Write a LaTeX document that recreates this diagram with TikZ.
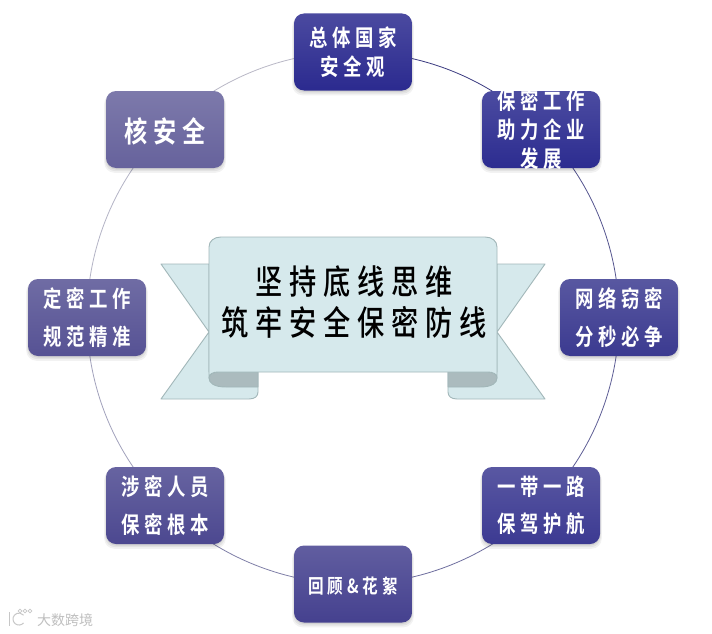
\documentclass[tikz,border=0pt]{standalone}
\usepackage{fontspec}
\newfontfamily\cjkb[FakeStretch=0.8,LetterSpace=20]{Noto Sans CJK SC Bold}
\newfontfamily\cjkt[FakeStretch=0.8,LetterSpace=20]{Noto Sans CJK SC Medium}
\newfontfamily\cjkw{Noto Sans CJK SC}
\usetikzlibrary{shadows,backgrounds}
\pgfdeclarelayer{paper}
\pgfsetlayers{paper,background,main}
\definecolor{ribbon}{HTML}{D6E9EC}
\definecolor{ribline}{HTML}{A2B7B9}
\definecolor{ribdark}{HTML}{ABBBBE}
\definecolor{ca}{HTML}{2B2A8F}
\definecolor{cb}{HTML}{2C2C90}
\definecolor{cc}{HTML}{3B3A90}
\definecolor{cd}{HTML}{3C3A92}
\definecolor{ce}{HTML}{45418F}
\definecolor{cf}{HTML}{4C4890}
\definecolor{cg}{HTML}{565294}
\definecolor{ch}{HTML}{66629C}
\definecolor{ra}{HTML}{B9B8C6}
\definecolor{rb}{HTML}{3A3A80}
\definecolor{rc}{HTML}{55558F}
\definecolor{rd}{HTML}{5E5E96}
\definecolor{re}{HTML}{6F6F9F}
\definecolor{rf}{HTML}{8080A8}
\definecolor{rg}{HTML}{A2A2BC}
\definecolor{rh}{HTML}{B4B4C6}
\tikzset{x=1pt,y=-1pt,
 softshadow/.style={
  general shadow={fill=black,opacity=.05,shadow yshift=-3.5pt,shadow scale=1.03},
  general shadow={fill=black,opacity=.06,shadow yshift=-2.5pt,shadow scale=1.015},
  general shadow={fill=black,opacity=.07,shadow yshift=-1.5pt}},
 tile/.style={rectangle,rounded corners=10pt,minimum width=118pt,minimum height=77pt,
  softshadow,text=white,align=center,font=\cjkb\fontsize{23}{37.5}\selectfont,inner xsep=0pt,inner ysep=-10pt},
 deep/.style={tile,top color=#1!85!white,bottom color=#1},
 nudge/.style={execute at begin node={\rule{0pt}{#1}}},
 ring/.style={line width=.8pt,bend left=22.5,looseness=.885},
 tight/.style={font=\cjkb\fontsize{23}{29}\selectfont}}
\begin{document}
\begin{tikzpicture}
\useasboundingbox (0,0) rectangle (712,634);
\begin{pgfonlayer}{paper}
\fill[white] (0,0) rectangle (712,634);
\end{pgfonlayer}
% ---- tiles
\node[deep=ca,tight,nudge=22pt] (n1) at (353,52) {总体国家\\安全观};
\node[deep=cb,tight,nudge=24pt] (n2) at (541,129.5) {保密工作\\助力企业\\发展};
\node[deep=cc,nudge=24pt] (n3) at (619,317.5) {网络窃密\\分秒必争};
\node[deep=cd,nudge=24pt] (n4) at (541,505.5) {一带一路\\保驾护航};
\node[deep=ce,font=\cjkb\fontsize{19.5}{30}\selectfont,nudge=20pt] (n5) at (353,584) {回顾\&花絮};
\node[deep=cf,nudge=24pt] (n6) at (165,505.5) {涉密人员\\保密根本};
\node[deep=cg,nudge=25pt] (n7) at (87,317.5) {定密工作\\规范精准};
\node[deep=ch,font=\cjkb\fontsize{29}{30}\selectfont,nudge=29pt] (n8) at (165,129.5) {核安全};
% ---- ring
\begin{scope}[on background layer]
\draw[ring,draw=ra] (n8.center) to (n1.center);
\draw[ring,draw=rb] (n1.center) to (n2.center);
\draw[ring,draw=rc] (n2.center) to (n3.center);
\draw[ring,draw=rd] (n3.center) to (n4.center);
\draw[ring,draw=re] (n4.center) to (n5.center);
\draw[ring,draw=rf] (n5.center) to (n6.center);
\draw[ring,draw=rg] (n6.center) to (n7.center);
\draw[ring,draw=rh] (n7.center) to (n8.center);
\end{scope}
% ---- ribbon
\begin{scope}[draw=ribline,line width=.9pt,line join=round]
\filldraw[fill=ribbon] (209,264) -- (161,264) -- (209,332) -- (161,399) -- (249,399)
  .. controls (255,399) and (258,396) .. (258,392) -- (258,372) -- (209,372) -- cycle;
\filldraw[fill=ribbon] (497,264) -- (545,264) -- (497,332) -- (545,399) -- (457,399)
  .. controls (451,399) and (448,396) .. (448,392) -- (448,372) -- (497,372) -- cycle;
\filldraw[fill=ribdark] (209,378) .. controls (209,383) and (214,387) .. (226,387)
  -- (258,387) -- (258,372) -- (218,372) .. controls (213,372) and (209,374) .. (209,378) -- cycle;
\filldraw[fill=ribdark] (497,378) .. controls (497,383) and (492,387) .. (480,387)
  -- (448,387) -- (448,372) -- (488,372) .. controls (493,372) and (497,374) .. (497,378) -- cycle;
\filldraw[fill=ribbon] (221,237) -- (485,237) .. controls (492,237) and (497,241) .. (497,247)
  -- (497,378) .. controls (497,374) and (493,372) .. (488,372) -- (218,372)
  .. controls (213,372) and (209,374) .. (209,378) -- (209,247)
  .. controls (209,241) and (214,237) .. (221,237) -- cycle;
\end{scope}
\node[font=\cjkt\fontsize{34}{41}\selectfont,align=center,inner sep=0pt] (title) at (354,302) {坚持底线思维\\筑牢安全保密防线};
% ---- watermark
\node[anchor=west,inner sep=0pt,text=black!25,font=\cjkw\fontsize{14}{14}\selectfont] (mark) at (37,620) {大数跨境};
\draw[black!22,line width=1pt] (9,612) -- (9,626);
\draw[black!22,line width=1pt] (23.6,622.9) arc[start angle=-40,end angle=-320,radius=6pt];
\draw[black!22,line width=.7pt] (20,611) circle[radius=1.8pt] (25,611) circle[radius=1.8pt] (30,611) circle[radius=1.8pt];
\end{tikzpicture}
\end{document}
